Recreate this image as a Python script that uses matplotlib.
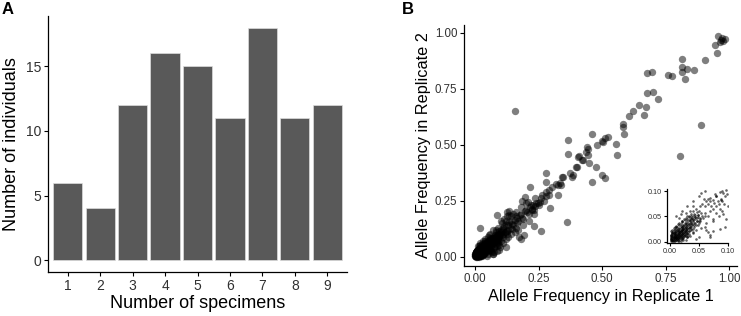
import numpy as np
import matplotlib
matplotlib.use("Agg")
import matplotlib.pyplot as plt

plt.rcParams['font.family'] = ['Liberation Sans', 'DejaVu Sans']

# panel A
specimens = [1, 2, 3, 4, 5, 6, 7, 8, 9]
individuals = [6, 4, 12, 16, 15, 11, 18, 11, 12]

# panel B, points (replicate 1, replicate 2)
hi_pts = [
    (0.958, 0.985), (0.971, 0.975), (0.964, 0.960), (0.977, 0.964), (0.984, 0.970),
    (0.968, 0.968), (0.945, 0.945), (0.951, 0.908), (0.905, 0.878), (0.816, 0.881),
    (0.816, 0.848), (0.833, 0.837), (0.862, 0.833), (0.813, 0.823), (0.827, 0.792),
    (0.761, 0.811), (0.774, 0.808), (0.678, 0.819), (0.698, 0.823), (0.678, 0.732),
    (0.699, 0.737), (0.721, 0.704), (0.646, 0.677), (0.673, 0.667), (0.665, 0.634),
    (0.620, 0.652), (0.606, 0.628), (0.583, 0.592), (0.581, 0.578), (0.587, 0.548),
    (0.888, 0.588), (0.807, 0.450), (0.553, 0.502), (0.560, 0.454), (0.524, 0.536),
    (0.511, 0.529), (0.498, 0.518), (0.459, 0.548), (0.478, 0.499), (0.439, 0.488),
    (0.445, 0.479), (0.449, 0.420), (0.364, 0.521), (0.364, 0.458), (0.406, 0.446),
    (0.419, 0.432), (0.445, 0.454), (0.400, 0.402), (0.373, 0.375), (0.384, 0.365),
    (0.475, 0.399), (0.498, 0.365), (0.511, 0.350), (0.459, 0.332), (0.279, 0.375),
    (0.279, 0.335), (0.341, 0.354), (0.327, 0.320), (0.320, 0.325), (0.333, 0.328),
    (0.338, 0.322), (0.301, 0.313), (0.327, 0.275), (0.290, 0.275), (0.294, 0.216),
    (0.363, 0.156), (0.261, 0.116), (0.233, 0.137), (0.156, 0.650), (0.216, 0.313),
    (0.279, 0.290), (0.292, 0.298), (0.262, 0.275), (0.235, 0.261), (0.196, 0.265),
    (0.183, 0.250), (0.209, 0.246), (0.248, 0.241), (0.229, 0.231), (0.222, 0.208),
    (0.087, 0.186), (0.126, 0.201), (0.019, 0.127), (0.173, 0.089), (0.180, 0.078),
    (0.193, 0.097), (0.121, 0.042), (0.132, 0.186), (0.436, 0.469), (0.410, 0.449),
    (0.397, 0.399), (0.505, 0.513), (0.380, 0.357), (0.344, 0.357), (0.426, 0.432),
]

mid_pts = [
    (0.100, 0.120), (0.110, 0.100), (0.120, 0.140), (0.130, 0.120), (0.140, 0.160),
    (0.150, 0.140), (0.160, 0.180), (0.170, 0.160), (0.180, 0.190), (0.190, 0.170),
    (0.200, 0.210), (0.210, 0.190), (0.220, 0.230), (0.230, 0.210), (0.240, 0.240),
    (0.250, 0.230), (0.260, 0.260), (0.270, 0.250), (0.280, 0.270), (0.105, 0.150),
    (0.115, 0.170), (0.125, 0.180), (0.090, 0.130), (0.080, 0.110), (0.070, 0.120),
    (0.060, 0.100), (0.050, 0.090), (0.040, 0.080), (0.030, 0.070), (0.020, 0.060),
    (0.100, 0.070), (0.120, 0.080), (0.140, 0.100), (0.155, 0.110), (0.170, 0.120),
    (0.190, 0.140), (0.210, 0.160), (0.085, 0.050), (0.095, 0.030), (0.110, 0.060),
    (0.130, 0.090), (0.065, 0.020), (0.075, 0.040), (0.150, 0.190), (0.135, 0.205),
    (0.100, 0.160), (0.180, 0.220), (0.200, 0.240), (0.160, 0.130), (0.230, 0.190),
    (0.145, 0.125), (0.165, 0.150), (0.185, 0.175), (0.205, 0.200), (0.225, 0.215),
    (0.118, 0.110), (0.098, 0.095), (0.088, 0.085), (0.108, 0.130), (0.078, 0.095),
    (0.050, 0.060), (0.060, 0.050), (0.070, 0.080), (0.080, 0.070), (0.090, 0.100),
    (0.060, 0.070), (0.070, 0.060), (0.080, 0.090), (0.090, 0.080), (0.100, 0.110),
    (0.110, 0.120), (0.120, 0.110), (0.130, 0.140), (0.140, 0.130), (0.050, 0.040),
    (0.060, 0.030), (0.040, 0.060), (0.030, 0.050), (0.055, 0.075), (0.065, 0.085),
    (0.075, 0.065), (0.085, 0.075), (0.095, 0.115), (0.105, 0.095), (0.115, 0.135),
    (0.125, 0.115), (0.135, 0.155), (0.145, 0.145), (0.155, 0.165), (0.165, 0.175),
    (0.175, 0.185), (0.020, 0.040), (0.010, 0.030), (0.010, 0.050), (0.040, 0.020),
    (0.050, 0.010), (0.030, 0.010), (0.070, 0.010), (0.045, 0.005), (0.110, 0.090),
    (0.125, 0.100), (0.090, 0.060), (0.195, 0.205), (0.215, 0.220), (0.235, 0.225),
    (0.255, 0.245), (0.120, 0.160), (0.140, 0.180), (0.160, 0.200), (0.082, 0.118),
]

core_pts = [
    (0.002, 0.003), (0.004, 0.002), (0.005, 0.006), (0.003, 0.008), (0.006, 0.004),
    (0.007, 0.009), (0.008, 0.005), (0.009, 0.011), (0.010, 0.007), (0.011, 0.013),
    (0.012, 0.009), (0.013, 0.015), (0.014, 0.011), (0.015, 0.017), (0.016, 0.012),
    (0.017, 0.019), (0.018, 0.014), (0.019, 0.021), (0.020, 0.016), (0.021, 0.023),
    (0.022, 0.018), (0.023, 0.025), (0.024, 0.020), (0.025, 0.027), (0.026, 0.022),
    (0.027, 0.029), (0.028, 0.024), (0.029, 0.031), (0.030, 0.026), (0.031, 0.033),
    (0.032, 0.028), (0.034, 0.036), (0.035, 0.030), (0.036, 0.038), (0.038, 0.034),
    (0.040, 0.041), (0.042, 0.037), (0.044, 0.045), (0.046, 0.040), (0.048, 0.048),
    (0.004, 0.012), (0.006, 0.015), (0.003, 0.018), (0.008, 0.020), (0.010, 0.003),
    (0.014, 0.004), (0.018, 0.006), (0.012, 0.022), (0.016, 0.026), (0.020, 0.030),
    (0.007, 0.024), (0.022, 0.010), (0.026, 0.014), (0.030, 0.018), (0.024, 0.034),
    (0.028, 0.038), (0.033, 0.022), (0.037, 0.026), (0.041, 0.030), (0.045, 0.034),
    (0.050, 0.038), (0.032, 0.042), (0.036, 0.046), (0.052, 0.044), (0.055, 0.050),
    (0.039, 0.050), (0.013, 0.001), (0.001, 0.010), (0.002, 0.014), (0.019, 0.002),
    (0.009, 0.016), (0.011, 0.019), (0.015, 0.008), (0.017, 0.010), (0.005, 0.001),
    (0.001, 0.005), (0.003, 0.004), (0.006, 0.010), (0.008, 0.013), (0.010, 0.010),
    (0.012, 0.005), (0.013, 0.018), (0.015, 0.013), (0.017, 0.015), (0.019, 0.011),
    (0.021, 0.019), (0.023, 0.013), (0.025, 0.017), (0.027, 0.021), (0.029, 0.015),
    (0.006, 0.007), (0.009, 0.002), (0.011, 0.008), (0.014, 0.007), (0.016, 0.021),
    (0.018, 0.024), (0.020, 0.008), (0.022, 0.027), (0.024, 0.012), (0.004, 0.020),
    (0.001, 0.002), (0.004, 0.003), (0.007, 0.001), (0.011, 0.003), (0.016, 0.002),
    (0.022, 0.003), (0.002, 0.006), (0.005, 0.004), (0.008, 0.007), (0.012, 0.006),
    (0.016, 0.005), (0.021, 0.006), (0.027, 0.004), (0.001, 0.008), (0.004, 0.009),
    (0.007, 0.007), (0.010, 0.009), (0.014, 0.008), (0.018, 0.009), (0.023, 0.008),
    (0.029, 0.009), (0.002, 0.011), (0.005, 0.012), (0.008, 0.010), (0.012, 0.011),
    (0.016, 0.010), (0.020, 0.012), (0.025, 0.011), (0.031, 0.012), (0.001, 0.014),
    (0.004, 0.015), (0.007, 0.013), (0.010, 0.014), (0.013, 0.013), (0.017, 0.014),
    (0.021, 0.015), (0.027, 0.013), (0.033, 0.015), (0.003, 0.017), (0.006, 0.018),
    (0.009, 0.017), (0.012, 0.016), (0.016, 0.018), (0.020, 0.017), (0.024, 0.016),
    (0.030, 0.018), (0.002, 0.021), (0.005, 0.020), (0.009, 0.019), (0.013, 0.021),
    (0.017, 0.020), (0.021, 0.021), (0.026, 0.019), (0.033, 0.021), (0.004, 0.023),
    (0.008, 0.024), (0.012, 0.023), (0.016, 0.022), (0.020, 0.024), (0.024, 0.023),
    (0.029, 0.022), (0.036, 0.024), (0.006, 0.027), (0.010, 0.026), (0.014, 0.025),
    (0.018, 0.027), (0.022, 0.026), (0.027, 0.025), (0.032, 0.027), (0.040, 0.026),
    (0.008, 0.029), (0.012, 0.030), (0.016, 0.028), (0.020, 0.029), (0.025, 0.030),
    (0.030, 0.028), (0.036, 0.030), (0.010, 0.032), (0.015, 0.033), (0.019, 0.031),
    (0.023, 0.032), (0.028, 0.033), (0.034, 0.031), (0.041, 0.033), (0.013, 0.035),
    (0.018, 0.036), (0.022, 0.034), (0.027, 0.035), (0.032, 0.036), (0.038, 0.035),
    (0.016, 0.038), (0.021, 0.039), (0.026, 0.037), (0.031, 0.038), (0.036, 0.039),
    (0.043, 0.037), (0.020, 0.041), (0.025, 0.042), (0.030, 0.040), (0.035, 0.041),
    (0.040, 0.043), (0.047, 0.041), (0.024, 0.044), (0.029, 0.045), (0.034, 0.043),
    (0.039, 0.044), (0.046, 0.046), (0.028, 0.047), (0.033, 0.048), (0.038, 0.046),
    (0.044, 0.048), (0.051, 0.047), (0.032, 0.050), (0.037, 0.051), (0.043, 0.049),
    (0.049, 0.052), (0.036, 0.054), (0.042, 0.055), (0.048, 0.053), (0.053, 0.057),
    # scattered part of the inset
    (0.097, 0.102), (0.092, 0.097), (0.086, 0.098), (0.080, 0.091), (0.074, 0.083),
    (0.069, 0.087), (0.063, 0.080), (0.058, 0.085), (0.066, 0.074), (0.071, 0.070),
    (0.077, 0.077), (0.083, 0.080), (0.089, 0.083), (0.095, 0.090), (0.093, 0.074),
    (0.086, 0.064), (0.080, 0.057), (0.092, 0.054), (0.097, 0.044), (0.086, 0.026),
    (0.074, 0.044), (0.063, 0.037), (0.054, 0.097), (0.051, 0.070), (0.045, 0.064),
    (0.040, 0.070), (0.034, 0.060), (0.028, 0.057), (0.019, 0.054), (0.016, 0.047),
    (0.060, 0.057), (0.066, 0.051), (0.057, 0.047), (0.051, 0.041), (0.048, 0.034),
    (0.054, 0.028), (0.063, 0.024), (0.045, 0.024), (0.040, 0.018), (0.074, 0.021),
    (0.069, 0.014), (0.035, 0.012), (0.043, 0.052), (0.047, 0.058), (0.037, 0.044),
]

pts = np.array(hi_pts + mid_pts + core_pts)
rep1 = pts[:, 0]
rep2 = pts[:, 1]

W, H = 741, 316
fig = plt.figure(figsize=(W / 100, H / 100), dpi=100)
ink = '#303030'


def classic(ax, fs, tl):
    for s in ['top', 'right']:
        ax.spines[s].set_visible(False)
    for s in ['left', 'bottom']:
        ax.spines[s].set_linewidth(0.9)
    ax.tick_params(length=tl, width=0.8, labelsize=fs, labelcolor=ink, pad=2)


# ---- A ----
axA = fig.add_axes([48.3 / W, 1 - 271.7 / H, (346.7 - 48.3) / W, (271.7 - 16) / H])
axA.bar(specimens, individuals, width=0.9, color='#595959', edgecolor='#dddddd', linewidth=0.5)
axA.set_xlim(0.4, 9.6)
axA.set_ylim(-0.9, 18.9)
axA.set_xticks(specimens)
axA.set_yticks([0, 5, 10, 15])
classic(axA, 10, 3)
axA.set_xlabel('Number of specimens', fontsize=13, labelpad=2)
axA.set_ylabel('Number of individuals', fontsize=13, labelpad=4)
fig.text(7.5 / W, 1 - 9.5 / H, 'A', fontsize=12, fontweight='bold', ha='center', va='center')

# ---- B ----
axB = fig.add_axes([464.3 / W, 1 - 265.7 / H, (736.7 - 464.3) / W, (265.7 - 25) / H])
axB.scatter(rep1, rep2, s=28, color='black', alpha=0.5, linewidths=0)
axB.set_xlim(-0.043, 1.03)
axB.set_ylim(-0.04, 1.034)
axB.set_xticks([0, 0.25, 0.5, 0.75, 1.0])
axB.set_yticks([0, 0.25, 0.5, 0.75, 1.0])
axB.set_xticklabels(['0.00', '0.25', '0.50', '0.75', '1.00'])
axB.set_yticklabels(['0.00', '0.25', '0.50', '0.75', '1.00'])
classic(axB, 8.3, 3)
axB.set_xlabel('Allele Frequency in Replicate 1', fontsize=11.7, labelpad=3)
axB.set_ylabel('Allele Frequency in Replicate 2', fontsize=11.7, labelpad=3)
fig.text(407.5 / W, 1 - 9.5 / H, 'B', fontsize=12, fontweight='bold', ha='center', va='center')

# inset
axI = fig.add_axes([666.7 / W, 1 - 243.3 / H, (728 - 666.7) / W, (243.3 - 189.3) / H])
axI.scatter(rep1, rep2, s=3.5, color='black', alpha=0.6, linewidths=0)
axI.set_xlim(-0.006, 0.1005)
axI.set_ylim(-0.003, 0.1035)
axI.set_xticks([0, 0.05, 0.1])
axI.set_yticks([0, 0.05, 0.1])
axI.set_xticklabels(['0.00', '0.05', '0.10'])
axI.set_yticklabels(['0.00', '0.05', '0.10'])
axI.patch.set_alpha(0)
classic(axI, 5.2, 2)
axI.tick_params(pad=1.5)

fig.savefig('out.png', dpi=100)
